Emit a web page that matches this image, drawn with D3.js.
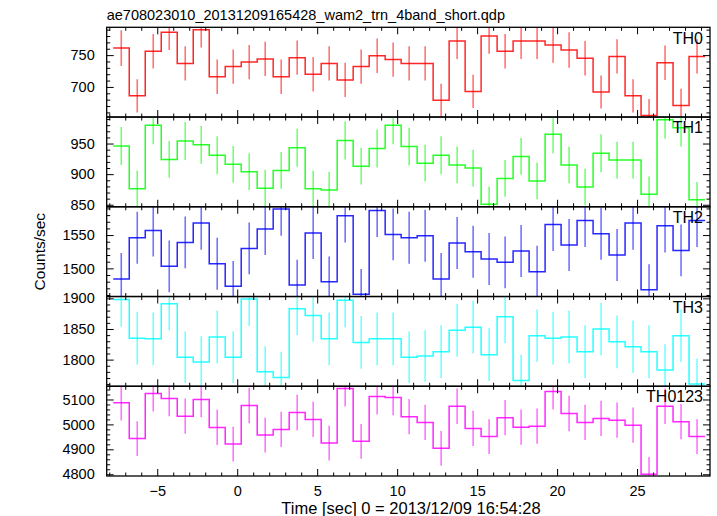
<!DOCTYPE html>
<html><head><meta charset="utf-8">
<script src="https://cdn.jsdelivr.net/npm/d3@7"></script>
<style>
body{margin:0;background:#fff}
text{font-family:"Liberation Sans",Arial,Helvetica,sans-serif;fill:#000}
</style>
</head><body>
<svg id="c" width="717" height="516"></svg>
<script>
// ---- data ----
const times = [-7.25,-6.25,-5.25,-4.25,-3.25,-2.25,-1.25,-0.25,0.75,1.75,2.75,3.75,4.75,5.75,6.75,7.75,8.75,9.75,10.75,11.75,12.75,13.75,14.75,15.75,16.75,17.75,18.75,19.75,20.75,21.75,22.75,23.75,24.75,25.75,26.75,27.75,28.75];
const binHalfWidth = 0.5;

const th0 = [761,686,756,786,737,790,716,732,739,744,716,746,720,737,711,732,749,743,737,737,679,772,693,780,756,772,772,766,758,745,692,748,686,655,738,671,748];
const th0Err = [28,26,27,28,27,28,27,27,27,27,27,27,27,27,27,27,27,27,27,27,26,28,26,28,27,28,28,28,28,27,26,27,26,26,27,26,27];

const th1 = [946,876,980,924,954,948,931,916,904,877,906,943,876,874,955,913,942,980,945,918,931,915,910,851,893,929,889,965,915,879,934,923,923,867,989,976,858];
const th1Err = [31,30,31,30,31,31,31,30,30,30,30,31,30,30,31,30,31,31,31,30,31,30,30,29,30,30,30,31,30,30,31,30,30,29,31,31,29];

const th2 = [1484,1546,1557,1503,1539,1568,1507,1473,1530,1559,1589,1475,1553,1480,1579,1461,1587,1551,1546,1549,1484,1538,1525,1514,1509,1526,1495,1566,1535,1572,1552,1520,1568,1468,1564,1527,1572];
const th2Err = [39,39,39,39,39,40,39,38,39,39,40,38,39,38,40,38,40,39,39,39,39,39,39,39,39,39,39,40,39,40,39,39,40,38,40,39,40];

const th3 = [1898,1835,1834,1891,1804,1796,1837,1804,1899,1780,1771,1883,1872,1834,1897,1828,1834,1834,1804,1806,1813,1848,1853,1808,1870,1766,1839,1835,1837,1813,1850,1829,1821,1813,1783,1839,1760];
const th3Err = [44,43,43,43,42,42,43,42,44,42,42,43,43,43,44,43,43,43,42,42,43,43,43,43,43,42,43,43,43,43,43,43,43,43,42,43,42];

const th0123 = [5087,4943,5124,5104,5033,5100,4988,4921,5076,4957,4980,5048,5020,4925,5144,4932,5112,5108,5031,5008,4904,5073,4984,4951,5027,4989,4993,5132,5044,5008,5024,5017,4997,4800,5073,5011,4951];
const th0123Err = [71,70,72,71,71,71,71,70,71,70,71,71,71,70,72,70,72,71,71,71,70,71,71,70,71,71,71,72,71,71,71,71,71,69,71,71,70];

const panelNames = ["TH0","TH1","TH2","TH3","TH0123"];
const panelColors = ["#ff0000","#00ff00","#0000ff","#00ffff","#ff00ff"];
const panelDomains = [[652.7,793.7],[846.7,993.3],[1457.7,1592.5],[1756.5,1903],[4793,5153]];
const yMajorTicks = [[700,750],[850,900,950],[1500,1550],[1800,1850,1900],[4800,4900,5000,5100]];
const yMinorStep = [10,10,10,10,20];
const xMajorTicks = [-5,0,5,10,15,20,25];
const xDomain = [-8.16,29.56];

const titleText = "ae708023010_20131209165428_wam2_trn_4band_short.qdp";
const xTitle = "Time [sec] 0 = 2013/12/09 16:54:28";
const yTitle = "Counts/sec";

// ---- layout ----
const series = [th0,th1,th2,th3,th0123];
const errors = [th0Err,th1Err,th2Err,th3Err,th0123Err];
const L = 106.7, R = 710, T0 = 27.3, B = 476;
const ph = (B - T0) / 5;
const svg = d3.select("#c");
const x = d3.scaleLinear().domain(xDomain).range([L, R]);
const xMinor = d3.range(-8, 30, 1).filter(v => v >= xDomain[0] && v <= xDomain[1] && !xMajorTicks.includes(v));

svg.append("text").attr("x", L).attr("y", 19.5).attr("font-size", 14.5).text(titleText);

series.forEach((vals, i) => {
  const top = T0 + i * ph, bot = top + ph;
  const y = d3.scaleLinear().domain(panelDomains[i]).range([bot, top]);
  const g = svg.append("g");
  const clipId = "clip" + i;
  svg.append("clipPath").attr("id", clipId).append("rect")
    .attr("x", L).attr("y", top).attr("width", R - L).attr("height", ph);
  const col = panelColors[i];
  const dg = g.append("g").attr("clip-path", `url(#${clipId})`);
  // error bars
  dg.selectAll("line.err").data(times).join("line")
    .attr("x1", d => x(d)).attr("x2", d => x(d))
    .attr("y1", (d, k) => y(vals[k] - errors[i][k]))
    .attr("y2", (d, k) => y(vals[k] + errors[i][k]))
    .attr("stroke", col).attr("stroke-width", 1.6).attr("stroke-opacity", 0.55);
  // histogram steps
  const pts = [];
  times.forEach((t, k) => { pts.push([t - binHalfWidth, vals[k]]); pts.push([t + binHalfWidth, vals[k]]); });
  dg.append("path").attr("d", d3.line().x(d => x(d[0])).y(d => y(d[1]))(pts))
    .attr("fill", "none").attr("stroke", col).attr("stroke-width", 1.5).attr("stroke-opacity", 0.85);

  // axes ticks (inward)
  const minorY = d3.range(Math.ceil(panelDomains[i][0] / yMinorStep[i]) * yMinorStep[i], panelDomains[i][1], yMinorStep[i])
    .filter(v => !yMajorTicks[i].includes(v));
  const mk = (axisFn, sc, vals2, size, fmt, pad) => axisFn(sc).tickValues(vals2).tickSize(size).tickPadding(pad).tickFormat(fmt);
  const addAxis = (axis, tx, ty) => {
    const a = g.append("g").attr("transform", `translate(${tx},${ty})`).call(axis);
    a.select(".domain").remove();
    a.selectAll(".tick line").attr("stroke", "#000").attr("stroke-width", 1);
    a.selectAll("text").attr("font-size", 14.5).attr("font-family", '"Liberation Sans",Arial,sans-serif').attr("fill", "#000");
    return a;
  };
  // bottom
  addAxis(mk(d3.axisBottom, x, xMajorTicks, -7, i === 4 ? (d => d < 0 ? "\u2212" + Math.abs(d) : d) : "", 10), 0, bot);
  addAxis(mk(d3.axisBottom, x, xMinor, -3.5, "", 0), 0, bot);
  // top
  addAxis(mk(d3.axisTop, x, xMajorTicks, -7, "", 0), 0, top);
  addAxis(mk(d3.axisTop, x, xMinor, -3.5, "", 0), 0, top);
  // left
  addAxis(mk(d3.axisLeft, y, yMajorTicks[i], -7, d => d, 12), L, 0);
  addAxis(mk(d3.axisLeft, y, minorY, -3.5, "", 0), L, 0);
  // right
  addAxis(mk(d3.axisRight, y, yMajorTicks[i], -7, "", 0), R, 0);
  addAxis(mk(d3.axisRight, y, minorY, -3.5, "", 0), R, 0);

  g.append("rect").attr("x", L).attr("y", top).attr("width", R - L).attr("height", ph)
    .attr("fill", "none").attr("stroke", "#000").attr("stroke-width", 1.3);

  g.append("text").attr("x", 703).attr("y", top + 16.2).attr("text-anchor", "end")
    .attr("font-size", 16).text(panelNames[i]);
});

svg.append("text").attr("x", 411).attr("y", 513.5).attr("text-anchor", "middle")
  .attr("font-size", 16.5).text(xTitle);
svg.append("text").attr("transform", `translate(45,${(T0 + B) / 2}) rotate(-90)`).attr("text-anchor", "middle")
  .attr("font-size", 15.5).text(yTitle);
</script>
</body></html>
